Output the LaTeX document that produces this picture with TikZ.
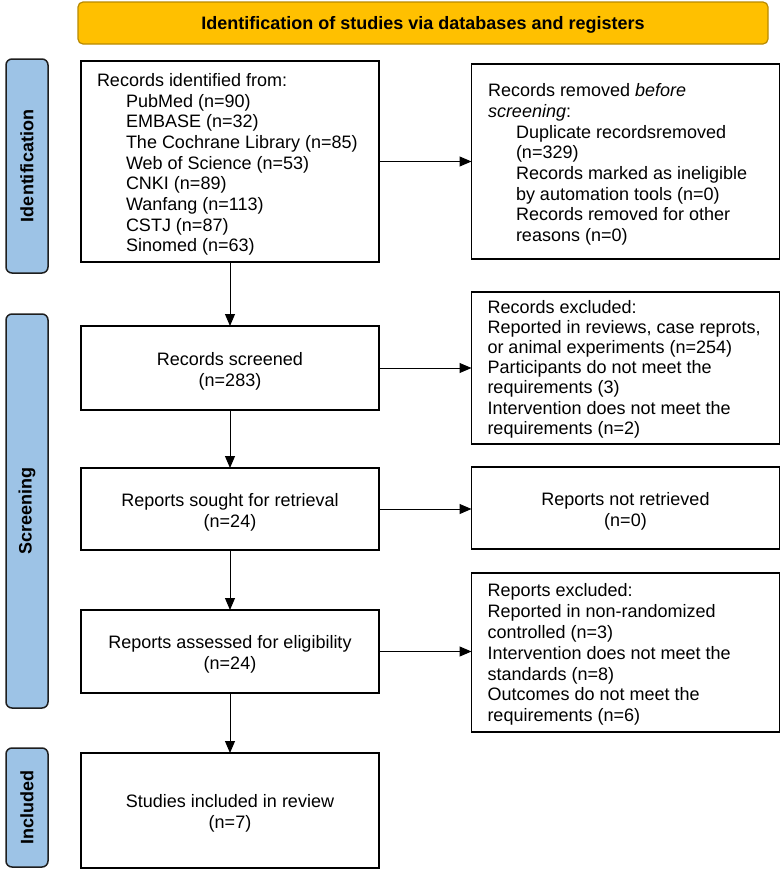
\documentclass[tikz,border=0pt]{standalone}
\usepackage{fontspec}
\setmainfont{Liberation Sans}
\usetikzlibrary{arrows.meta}
\definecolor{bannerfill}{RGB}{255,192,0}
\definecolor{bannerline}{RGB}{185,138,0}
\definecolor{barfill}{RGB}{157,195,230}
\definecolor{barline}{RGB}{30,30,30}
\begin{document}
\begin{tikzpicture}[x=1pt,y=-1pt,
  every node/.style={inner sep=0pt, outer sep=0pt, font=\fontsize{18}{20.7}\selectfont},
  box/.style={draw=black, line width=1.6pt, fill=white},
  ctxt/.style={align=center, yshift=-3pt},
  bar/.style={draw=barline, fill=barfill, line width=1.5pt, rounded corners=6pt, rotate=90, minimum height=42pt, font=\fontsize{18}{20.7}\selectfont\bfseries},
  banner/.style={draw=bannerline, fill=bannerfill, line width=1.2pt, rounded corners=5pt},
  txt/.style={anchor=west, align=left, yshift=-3pt},
  arr/.style={line width=1pt, -{Triangle[length=12pt,width=10pt]}}
]
\useasboundingbox (0,0) rectangle (782,873);

\node[banner, minimum width=690pt, minimum height=42pt] (banner) at (423,23) {};
\node[font=\fontsize{18}{20.7}\selectfont\bfseries, yshift=-2pt] (bannertxt) at (banner.center) {Identification of studies via databases and registers};

\node[bar, minimum width=214pt] (idbar) at (27,166) {Identification};
\node[bar, minimum width=394pt] (scrbar) at (27,511) {Screening};
\node[bar, minimum width=119pt] (incbar) at (27,807.5) {Included};

\node[box, minimum width=298pt, minimum height=201pt] (ident) at (230,161.5) {};
\node[txt] (identtxt) at ([xshift=16pt]ident.west) {Records identified from:\\
\hspace*{29pt}PubMed (n=90)\\
\hspace*{29pt}EMBASE (n=32)\\
\hspace*{29pt}The Cochrane Library (n=85)\\
\hspace*{29pt}Web of Science (n=53)\\
\hspace*{29pt}CNKI (n=89)\\
\hspace*{29pt}Wanfang (n=113)\\
\hspace*{29pt}CSTJ (n=87)\\
\hspace*{29pt}Sinomed (n=63)};

\node[box, minimum width=308pt, minimum height=195pt] (removed) at (625.5,161.5) {};
\node[txt] (removedtxt) at ([xshift=16.5pt]removed.west) {Records removed \textit{before}\\
\textit{screening}:\\
\hspace*{28pt}Duplicate recordsremoved\\
\hspace*{28pt}(n=329)\\
\hspace*{28pt}Records marked as ineligible\\
\hspace*{28pt}by automation tools (n=0)\\
\hspace*{28pt}Records removed for other\\
\hspace*{28pt}reasons (n=0)};

\node[box, minimum width=298pt, minimum height=84pt] (screened) at (230,368) {};
\node[ctxt] (screenedtxt) at (screened.center) {Records screened\\(n=283)};

\node[box, minimum width=308pt, minimum height=152pt] (excl1) at (625.5,368) {};
\begin{scope}
\clip (471,292) rectangle (780,437.5);
\node[txt, yshift=2pt, font=\fontsize{18}{20.2}\selectfont] (excl1txt) at ([xshift=16pt]excl1.west) {Records excluded:\\
Reported in reviews, case reprots,\\
or animal experiments (n=254)\\
Participants do not meet the\\
requirements (3)\\
Intervention does not meet the\\
requirements (n=2)};
\end{scope}

\node[box, minimum width=298pt, minimum height=82pt] (sought) at (230,509) {};
\node[ctxt] (soughttxt) at (sought.center) {Reports sought for retrieval\\(n=24)};
\node[box, minimum width=308pt, minimum height=82pt] (notret) at (625.5,508) {};
\node[ctxt] (notrettxt) at (notret.center) {Reports not retrieved\\(n=0)};

\node[box, minimum width=298pt, minimum height=83pt] (assessed) at (230,651.5) {};
\node[ctxt] (assessedtxt) at (assessed.center) {Reports assessed for eligibility\\(n=24)};

\node[box, minimum width=308pt, minimum height=159pt] (excl2) at (625.5,652.5) {};
\begin{scope}
\clip (471,573) rectangle (780,724);
\node[txt, yshift=1pt, font=\fontsize{18}{20.9}\selectfont] (excl2txt) at ([xshift=16pt]excl2.west) {Reports excluded:\\
Reported in non-randomized\\
controlled (n=3)\\
Intervention does not meet the\\
standards (n=8)\\
Outcomes do not meet the\\
requirements (n=6)};
\end{scope}

\node[box, minimum width=298pt, minimum height=115pt] (included) at (230,810.5) {};
\node[ctxt] (includedtxt) at (included.center) {Studies included in review\\(n=7)};

\draw[arr] (ident.east) -- (ident.east -| removed.west);
\draw[arr] (screened.east) -- (screened.east -| excl1.west);
\draw[arr] (sought.east) -- (sought.east -| notret.west);
\draw[arr] (assessed.east) -- (assessed.east -| excl2.west);
\draw[arr] (ident.south) -- (screened.north);
\draw[arr] (screened.south) -- (sought.north);
\draw[arr] (sought.south) -- (assessed.north);
\draw[arr] (assessed.south) -- (included.north);
\end{tikzpicture}
\end{document}
